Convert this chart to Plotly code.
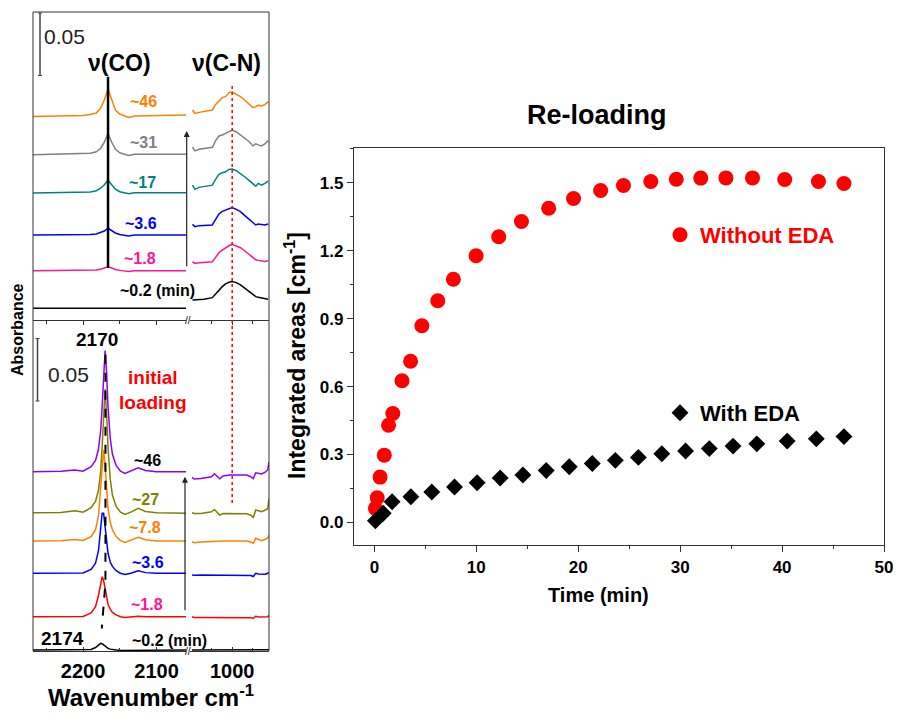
import plotly.graph_objects as go

# page body has an 8px margin: the figure is drawn 8px lower/right than the window origin
OFF = 8
W, H = 901 - 2 * OFF, 713 - OFF
FONT = "Liberation Sans, Arial, sans-serif"

# ---------------- Right panel: re-loading kinetics ----------------
time_without = [0.1, 0.28, 0.56, 0.97, 1.39, 1.81, 2.71, 3.55, 4.66, 6.22, 7.75, 9.98, 12.2,
                14.43, 17.1, 19.54, 22.2, 24.44, 27.12, 29.62, 32.02, 34.49, 37.1, 40.26, 43.57, 46.07]
area_without = [0.062, 0.109, 0.2, 0.297, 0.429, 0.481, 0.626, 0.712, 0.869, 0.979, 1.074, 1.178, 1.262,
                1.329, 1.388, 1.431, 1.466, 1.488, 1.506, 1.516, 1.521, 1.522, 1.522, 1.515, 1.506, 1.497]
time_with = [0.1, 0.87, 1.74, 3.58, 5.63, 7.86, 10.08, 12.34, 14.57, 16.86, 19.12, 21.38, 23.64,
             25.9, 28.2, 30.53, 32.86, 35.19, 37.52, 40.5, 43.36, 46.07]
area_with = [0.007, 0.04, 0.091, 0.113, 0.134, 0.156, 0.175, 0.196, 0.209, 0.229, 0.246, 0.26, 0.274,
             0.287, 0.303, 0.315, 0.326, 0.337, 0.347, 0.359, 0.369, 0.379]

# ---------------- Left panel: IR spectra (absorbance in mAbs) ----------------
# Re-loading (top), nu(CO) region
wn_co_top = [2268, 2230, 2200, 2190, 2182, 2176, 2171, 2166, 2161, 2156, 2150, 2144, 2138, 2130, 2100, 2060]
reload_co_46 = [-0.4, 0, 0.4, 1.2, 2.4, 6.4, 12.8, 21.6, 12.8, 4.8, 1.6, 0, -1.2, 0, 0.4, 0.8]
reload_co_31 = [-0.4, 0, 0.2, 0.8, 2.0, 4.8, 9.6, 16.8, 9.6, 4.0, 1.2, 0, -1.0, 0, 0.2, 0]
reload_co_17 = [-0.2, 0, 0.2, 0.6, 1.6, 3.6, 6.4, 10.2, 6.4, 2.8, 0.8, 0, -0.8, 0, 0.2, 0]
reload_co_3_6 = [0, 0, 0.2, 0.4, 0.8, 2.0, 3.2, 5.4, 3.6, 1.6, 0.4, 0, -0.8, 0, 0.2, 0]
reload_co_1_8 = [0, 0, 0.1, 0.3, 0.6, 1.2, 2.2, 3.2, 2.2, 1.0, 0.3, 0, -0.5, 0, 0.1, 0]
reload_co_0_2 = [0, 0, 0, 0, 0, 0, 0, 0.2, 0, 0, 0, 0, 0, 0, 0, 0]
# Re-loading (top), nu(C-N) region
wn_cn_top = [1096, 1090, 1080, 1068, 1048, 1040, 1032, 1024, 1016, 1008, 1000, 990, 980, 970, 960, 950,
             943, 937, 929, 921, 913]
reload_cn_46 = [4.8, 2.1, 2.9, 3.7, 4.8, 9.3, 12.3, 14.7, 15.5, 18.7, 19.2, 17.6, 15.5, 12.8, 10.1, 6.7,
                7.5, 8.5, 8.0, 9.1, 11.5]
reload_cn_31 = [5.6, 2.7, 4.0, 4.5, 5.6, 10.9, 14.6, 15.4, 16.8, 18.6, 19.4, 17.8, 15.4, 13.0, 10.4, 6.7,
                8.3, 7.5, 6.7, 8.3, 10.9]
reload_cn_17 = [6.1, 2.7, 4.3, 4.8, 6.1, 10.7, 14.7, 16.0, 16.8, 18.7, 19.0, 17.6, 15.5, 12.8, 10.1, 6.9,
                5.3, 7.5, 6.1, 7.5, 9.3]
reload_cn_3_6 = [8.5, 6.7, 7.5, 7.7, 8.0, 12.5, 16.8, 18.9, 20.0, 21.3, 21.9, 20.5, 18.7, 15.7, 12.8, 9.3,
                 8.0, 8.8, 8.5, 8.0, 8.8]
reload_cn_1_8 = [7.2, 5.9, 6.4, 6.7, 7.2, 10.7, 14.4, 16.5, 18.4, 20.0, 21.1, 20.0, 18.4, 16.0, 13.3, 10.4,
                 8.8, 8.3, 7.8, 7.5, 8.0]
reload_cn_0_2 = [6.7, 6.7, 7.2, 7.2, 8.5, 11.5, 14.7, 17.3, 19.5, 20.8, 21.3, 20.5, 18.7, 16.0, 13.3, 10.9,
                 9.3, 8.8, 8.3, 7.7, 7.2]
reload_offsets = [163.2, 132.6, 101.8, 68.0, 39.4, 9.4]
reload_labels = ["~46", "~31", "~17", "~3.6", "~1.8", "~0.2 (min)"]

# Initial loading (bottom), nu(CO) region
wn_co_bot = [2268, 2230, 2211, 2200, 2189, 2183, 2179, 2176, 2174, 2172, 2170, 2168, 2166, 2163, 2160,
             2155, 2149, 2143, 2135, 2125, 2115, 2100, 2060]
init_co_46 = [0, 0.3, 1.4, 0.4, 4, 9, 18, 33, 52, 80, 97, 80, 52, 27, 14, 5, 0.5, -1.3, 0.5, 3.2, 1, 0, 0]
init_co_27 = [0, 0.3, 1.6, 0.4, 4, 9, 18, 33, 53, 82, 99, 80, 52, 27, 14, 5, 0.5, -1.3, 0.5, 3.5, 1, 0, -0.3]
init_co_7_8 = [0, 0.2, 1.2, 0.4, 3.5, 9, 20, 41, 61, 73, 61, 41, 26, 15, 9, 3.5, 0.3, -1.2, 0.5, 3, 1, 0, 0]
init_co_3_6 = [0, 0, 0.5, 0.3, 3, 8, 18, 35, 48, 48, 36, 24, 16, 9, 5.5, 2, 0, -1, 0, 2, 0.5, 0, 0]
init_co_1_8 = [0, 0, 0.3, 0.3, 3, 8, 17, 28, 32, 29, 22, 15, 10, 6, 3.5, 1.5, 0, -0.5, 0, 0.5, 0, 0, 0]
init_co_0_2 = [0, 0, 0, 0, 0.5, 2, 4, 5.3, 5, 4, 3, 2, 1.3, 0.7, 0.3, 0, -0.3, -0.3, 0, 0, 0, 0, 0]
# Initial loading (bottom), nu(C-N) region
wn_cn_bot = [1097, 1092, 1076, 1050, 1043, 1037, 1030, 1022, 1005, 980, 965, 955, 949, 943, 937, 929,
             920, 914, 911]
init_cn_46 = [-4.5, -5.8, -5.4, -4.0, -1.6, -3.2, -5.6, -3.4, -2.6, -2.6, -2.6, -4.0, -5.4, -0.8, -1.4,
              -1.8, -0.4, 1.6, 8.0]
init_cn_27 = [0, -0.6, -0.6, 0.8, 2.6, 0.8, -1.8, -0.6, -0.6, -0.6, -0.8, -2.0, -3.8, 2.2, 1.6, 0.8,
              2.2, 3.2, 11.4]
init_cn_7_8 = [-0.6, -1.4, -0.8, -0.2, 0, 0, -0.2, 0, 0, 0, 0, -0.8, -1.8, 2.2, 1.2, 0.2, 1.4, 2.4, 4.8]
init_cn_3_6 = [-1.4, -1.6, -1.4, -1.4, -1.4, -1.4, -1.4, -1.4, -1.4, -1.4, -1.4, -1.8, -2.6, 0, -0.6,
               -0.8, -0.8, 0, 0.8]
init_cn_1_8 = [0, -0.5, -0.5, -0.5, -0.5, -0.5, -1.0, -0.5, -0.5, -0.5, -0.5, -0.8, -1.2, 0.4, -0.2,
               -0.3, -0.3, 0, 1.3]
init_cn_0_2 = [0, 0, 0, 0, 0, 0, 0, 0, 0, 0, 0, 0, 0, 0, 0, 0, 0, 0, 0.3]
init_offsets = [143.4, 110.6, 88.0, 62.2, 27.4, 0.8]
init_labels = ["~46", "~27", "~7.8", "~3.6", "~1.8", "~0.2 (min)"]

reload_co = [reload_co_46, reload_co_31, reload_co_17, reload_co_3_6, reload_co_1_8, reload_co_0_2]
reload_cn = [reload_cn_46, reload_cn_31, reload_cn_17, reload_cn_3_6, reload_cn_1_8, reload_cn_0_2]
init_co = [init_co_46, init_co_27, init_co_7_8, init_co_3_6, init_co_1_8, init_co_0_2]
init_cn = [init_cn_46, init_cn_27, init_cn_7_8, init_cn_3_6, init_cn_1_8, init_cn_0_2]

reload_colors = ["#FF8000", "#808080", "#008080", "#0000FF", "#FF1493", "#000000"]
init_colors = ["#8B00FF", "#808000", "#FF8000", "#0000FF", "#FF0000", "#000000"]
init_label_colors = ["#000000", "#808000", "#FF8000", "#0000FF", "#FF1493", "#000000"]

wn_ticks_co = [2200, 2100]
wn_ticks_cn = [1000]


def px(x):
    return (x - OFF) / W


def py(y):
    return 1 - (y - OFF) / H


fig = go.Figure()

# spectra
for vals_co, vals_cn, off, col in zip(reload_co, reload_cn, reload_offsets, reload_colors):
    fig.add_trace(go.Scatter(x=wn_co_top, y=[off + v for v in vals_co], mode="lines",
                             line=dict(color=col, width=1.5), xaxis="x2", yaxis="y2", showlegend=False))
    fig.add_trace(go.Scatter(x=wn_cn_top, y=[off + v for v in vals_cn], mode="lines",
                             line=dict(color=col, width=1.5), xaxis="x3", yaxis="y2", showlegend=False))
for vals_co, vals_cn, off, col in zip(init_co, init_cn, init_offsets, init_colors):
    fig.add_trace(go.Scatter(x=wn_co_bot, y=[off + v for v in vals_co], mode="lines",
                             line=dict(color=col, width=1.5), xaxis="x4", yaxis="y3", showlegend=False))
    fig.add_trace(go.Scatter(x=wn_cn_bot, y=[off + v for v in vals_cn], mode="lines",
                             line=dict(color=col, width=1.5), xaxis="x5", yaxis="y3", showlegend=False))

# kinetics
fig.add_trace(go.Scatter(x=time_without, y=area_without, mode="markers", name="Without EDA",
                         marker=dict(symbol="circle", size=15, color="#FF0000"),
                         xaxis="x", yaxis="y", legend="legend"))
fig.add_trace(go.Scatter(x=time_with, y=area_with, mode="markers", name="With EDA",
                         marker=dict(symbol="diamond", size=13, color="#000000"),
                         xaxis="x", yaxis="y", legend="legend2"))

axis_line = "#333333"
tickfont_r = dict(family=FONT, size=17, color="#000", weight="bold")
tickfont_l = dict(family=FONT, size=20, color="#000", weight="bold")

fig.update_layout(
    width=W, height=H, margin=dict(l=0, r=0, t=0, b=0, autoexpand=False),
    paper_bgcolor="white", plot_bgcolor="white",
    font=dict(family=FONT, color="#000"),
    xaxis=dict(domain=[px(354), px(884)], range=[-2, 50], anchor="y", showgrid=False, zeroline=False,
               showline=True, linecolor=axis_line, linewidth=1.3, mirror=True, automargin=False,
               ticks="outside", ticklen=6, tickwidth=1.3, tickcolor=axis_line, tick0=0, dtick=10,
               minor=dict(dtick=5, ticklen=3, ticks="outside", tickcolor=axis_line),
               tickfont=tickfont_r, ticklabeloverflow="allow"),
    yaxis=dict(domain=[py(545), py(148)], range=[-0.1, 1.654], anchor="x", showgrid=False, zeroline=False,
               showline=True, linecolor=axis_line, linewidth=1.3, mirror=True, automargin=False,
               ticks="outside", ticklen=6, tickwidth=1.3, tickcolor=axis_line, tick0=0, dtick=0.3,
               tickformat=".1f", minor=dict(dtick=0.15, ticklen=3, ticks="outside", tickcolor=axis_line),
               tickfont=tickfont_r),
    xaxis2=dict(domain=[px(33), px(186)], range=[2268, 2060], anchor="y2", showgrid=False, zeroline=False,
                showline=True, linecolor=axis_line, linewidth=1, ticks="outside", ticklen=4, automargin=False,
                tickcolor=axis_line, tickvals=wn_ticks_co, showticklabels=False,
                minor=dict(tickvals=[2250, 2150], ticklen=3, ticks="outside", tickcolor=axis_line)),
    xaxis3=dict(domain=[px(190), px(269)], range=[1102, 911], anchor="y2", showgrid=False, zeroline=False,
                showline=True, linecolor=axis_line, linewidth=1, ticks="outside", ticklen=4, automargin=False,
                tickcolor=axis_line, tickvals=wn_ticks_cn, showticklabels=False,
                minor=dict(tickvals=[1050, 950], ticklen=3, ticks="outside", tickcolor=axis_line)),
    xaxis4=dict(domain=[px(33), px(186)], range=[2268, 2060], anchor="y3", showgrid=False, zeroline=False,
                showline=True, linecolor=axis_line, linewidth=1, ticks="inside", ticklen=4, automargin=False,
                tickcolor=axis_line, tickvals=wn_ticks_co, tickfont=tickfont_l, ticklabelstandoff=2,
                minor=dict(tickvals=[2250, 2150], ticklen=3, ticks="inside", tickcolor=axis_line)),
    xaxis5=dict(domain=[px(190), px(269)], range=[1102, 911], anchor="y3", showgrid=False, zeroline=False,
                showline=True, linecolor=axis_line, linewidth=1, ticks="inside", ticklen=4, automargin=False,
                tickcolor=axis_line, tickvals=wn_ticks_cn, tickfont=tickfont_l, ticklabelstandoff=2,
                minor=dict(tickvals=[1050, 950], ticklen=3, ticks="inside", tickcolor=axis_line)),
    yaxis2=dict(domain=[py(320), py(12)], range=[0, 246.4], anchor="x2", visible=False, automargin=False),
    yaxis3=dict(domain=[py(651), py(320)], range=[0, 264.8], anchor="x4", visible=False, automargin=False),
    legend=dict(x=px(660), y=py(235), xanchor="left", yanchor="middle", bgcolor="rgba(0,0,0,0)",
                font=dict(family=FONT, size=22, color="#FF0000", weight="bold")),
    legend2=dict(x=px(660), y=py(413), xanchor="left", yanchor="middle", bgcolor="rgba(0,0,0,0)",
                 font=dict(family=FONT, size=22, color="#000000", weight="bold")),
)

shapes = []
# left panel frame (top, left, right)
for (x0, y0, x1, y1) in [(33, 12, 269, 12), (33, 12, 33, 651), (269, 12, 269, 651)]:
    shapes.append(dict(type="line", xref="paper", yref="paper", x0=px(x0), y0=py(y0), x1=px(x1), y1=py(y1),
                       line=dict(color=axis_line, width=1)))
# scale bars (0.05 absorbance = 50 mAbs)
for xb, yref, yb0, yb1 in [(40, "y2", 195.6, 245.6), (37.5, "y3", 200, 250)]:
    shapes.append(dict(type="line", xref="paper", yref=yref, x0=px(xb), x1=px(xb), y0=yb0, y1=yb1,
                       line=dict(color="#444", width=1.5)))
    for yy in (yb0, yb1):
        shapes.append(dict(type="line", xref="paper", yref=yref, x0=px(xb - 2), x1=px(xb + 2), y0=yy, y1=yy,
                           line=dict(color="#444", width=1)))
# peak position line (re-loading)
shapes.append(dict(type="line", xref="x2", yref="y2", x0=2166, x1=2166, y0=41.6, y1=194.6,
                   line=dict(color="#000", width=2.5)))
# peak shift dashed line (initial loading)
shapes.append(dict(type="path", xref="x4", yref="y3", path="M2169.5,237 L2169.5,55 L2174.5,18",
                   line=dict(color="#000", width=2, dash="dash")))
# red dotted line at 1000 cm-1
shapes.append(dict(type="line", xref="x3", yref="paper", x0=1000, x1=1000, y0=py(503), y1=py(83),
                   line=dict(color="#FF0000", width=1.5, dash="dot")))
fig.update_layout(shapes=shapes)

ann = []


def txt(x, y, s, size=14, color="#000", bold=True, angle=0, xanchor="center"):
    ann.append(dict(x=px(x), y=py(y), xref="paper", yref="paper", text=("<b>%s</b>" % s) if bold else s,
                    showarrow=False, xanchor=xanchor, yanchor="middle", textangle=angle,
                    font=dict(family=FONT, size=size, color=color)))


# top panel labels
txt(64, 37, "0.05", size=21, color="#222", bold=False)
txt(119, 63, "ν(CO)", size=23)
txt(226, 63, "ν(C-N)", size=23)
for lab, col, (lx, ly) in zip(reload_labels, reload_colors,
                              [(143, 102), (143, 143), (142, 182), (141, 223), (140, 259), (157, 290)]):
    txt(lx, ly, lab, size=16, color=col)
# bottom panel labels
txt(97, 339, "2170", size=19)
txt(68, 374, "0.05", size=21, color="#222", bold=False)
txt(153, 377, "initial", size=19, color="#FF0000")
txt(153, 402, "loading", size=19, color="#FF0000")
for lab, col, (lx, ly) in zip(init_labels, init_label_colors,
                              [(147, 460), (145, 499), (145, 527), (148, 562), (147, 604), (169, 640)]):
    txt(lx, ly, lab, size=16, color=col)
txt(62, 638, "2174", size=19)
txt(151, 696, "Wavenumber cm<sup>-1</sup>", size=24)
txt(17, 330, "Absorbance", size=16, angle=-90)
txt(188, 320, "//", size=10, bold=False)
txt(188, 651, "//", size=10, bold=False)
# right panel labels
txt(597, 115, "Re-loading", size=27)
txt(598, 595, "Time (min)", size=20)
txt(295, 356, "Integrated areas [cm<sup>-1</sup>]", size=23, angle=-90)

# arrows
for ax_x, head_y, tail_y in [(186.7, 131, 267.7), (185, 476.7, 611.7)]:
    ann.append(dict(x=px(ax_x), y=py(head_y), xref="paper", yref="paper", ax=0, ay=tail_y - head_y,
                    axref="pixel", ayref="pixel", text="", showarrow=True, arrowhead=2, arrowsize=1,
                    arrowwidth=1.2, arrowcolor="#222"))

fig.update_layout(annotations=ann)
fig.write_html("out.html")
